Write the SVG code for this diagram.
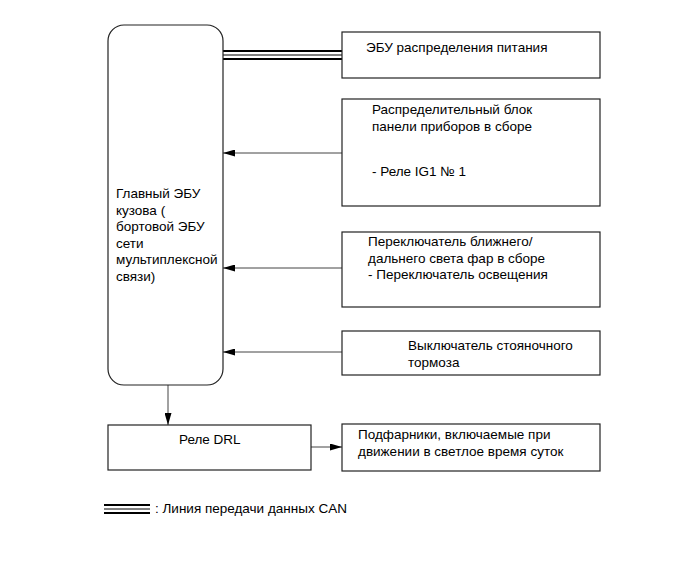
<svg xmlns="http://www.w3.org/2000/svg" width="691" height="564" viewBox="0 0 691 564">
<defs>
<style>
.box{fill:#fff;stroke:#222;stroke-width:1.2}
.t{font-family:"Liberation Sans",Arial,sans-serif;font-size:13.5px;fill:#000}
.c{stroke:#444;stroke-width:1;fill:none}
.can{stroke:#000;fill:none}
</style>
<marker id="ah" markerWidth="12" markerHeight="7" refX="12" refY="3.5" orient="auto" markerUnits="userSpaceOnUse">
<path d="M0,0 L12,3.5 L0,7 Z" fill="#000"/>
</marker>
</defs>
<rect width="691" height="564" fill="#fff"/>
<g id="connectors">
<line class="can" x1="223" y1="51" x2="342" y2="51" stroke-width="2"/>
<line class="can" x1="223" y1="55" x2="342" y2="55" stroke-width="1"/>
<line class="can" x1="223" y1="59" x2="342" y2="59" stroke-width="2"/>
<line class="c" x1="342" y1="153" x2="223" y2="153" marker-end="url(#ah)"/>
<line class="c" x1="342" y1="268" x2="223" y2="268" marker-end="url(#ah)"/>
<line class="c" x1="342" y1="352" x2="223" y2="352" marker-end="url(#ah)"/>
<line class="c" x1="168" y1="385" x2="168" y2="425" marker-end="url(#ah)"/>
<line class="c" x1="311" y1="447" x2="342" y2="447" marker-end="url(#ah)"/>
</g>
<g id="main-ecu">
<rect class="box" x="108" y="25" width="115" height="360" rx="16"/>
<text class="t"><tspan x="116" y="198">Главный ЭБУ</tspan><tspan x="116" y="214.5">кузова (</tspan><tspan x="116" y="231">бортовой ЭБУ</tspan><tspan x="116" y="247.5">сети</tspan><tspan x="116" y="264">мультиплексной</tspan><tspan x="116" y="280.5">связи)</tspan></text>
</g>
<g id="power-ecu">
<rect class="box" x="342" y="32" width="258" height="46"/>
<text class="t" x="366" y="52">ЭБУ распределения питания</text>
</g>
<g id="junction-block">
<rect class="box" x="342" y="99" width="258" height="107"/>
<text class="t"><tspan x="372" y="114">Распределительный блок</tspan><tspan x="372" y="131">панели приборов в сборе</tspan><tspan x="372" y="176">- Реле IG1 № 1</tspan></text>
</g>
<g id="headlight-switch">
<rect class="box" x="342" y="232" width="258" height="75"/>
<text class="t"><tspan x="368" y="246">Переключатель ближнего/</tspan><tspan x="368" y="263">дальнего света фар в сборе</tspan><tspan x="368" y="279">- Переключатель освещения</tspan></text>
</g>
<g id="parking-brake">
<rect class="box" x="342" y="331" width="258" height="44"/>
<text class="t"><tspan x="408" y="350">Выключатель стояночного</tspan><tspan x="408" y="367">тормоза</tspan></text>
</g>
<g id="drl-relay">
<rect class="box" x="108" y="425" width="203" height="45"/>
<text class="t" x="179" y="444">Реле DRL</text>
</g>
<g id="drl-lamps">
<rect class="box" x="342" y="424" width="258" height="47"/>
<text class="t"><tspan x="358" y="439">Подфарники, включаемые при</tspan><tspan x="358" y="456">движении в светлое время суток</tspan></text>
</g>
<g id="legend">
<line class="can" x1="104" y1="505" x2="150" y2="505" stroke-width="2"/>
<line class="can" x1="104" y1="509" x2="150" y2="509" stroke-width="1"/>
<line class="can" x1="104" y1="513" x2="150" y2="513" stroke-width="2"/>
<text class="t" x="155" y="513">: Линия передачи данных CAN</text>
</g>
</svg>
